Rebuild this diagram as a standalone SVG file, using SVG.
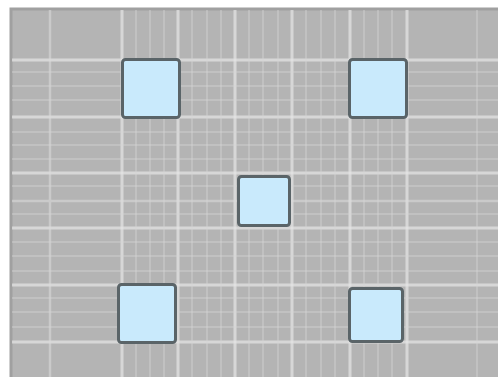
<svg xmlns="http://www.w3.org/2000/svg" width="498" height="379" viewBox="0 0 498 379">
<defs>
<style>
.bg{fill:#b4b4b4}
.s{stroke:#e6e6e6;stroke-width:3;stroke-opacity:0.7}
.m{stroke:#dcdcdc;stroke-width:2.5;stroke-opacity:0.55}
.f{stroke:#d4d4d4;stroke-width:2;stroke-opacity:0.4}
.node rect{fill:#c9eafc;stroke:#5a6468;stroke-width:3}
</style>
<filter id="soft" x="0" y="0" width="1" height="1"><feGaussianBlur stdDeviation="0.6"/></filter>
</defs>
<rect x="0" y="0" width="498" height="379" fill="#ffffff"/>
<rect class="bg" x="10" y="8" width="488" height="369"/>
<path d="M11 377V9H498" fill="none" stroke="#a0a0a0" stroke-width="3"/>
<g id="grid" filter="url(#soft)">
<g class="s">
<path d="M12 60H498M12 117H498M12 173H498M12 228H498M12 285H498M12 342H498"/>
<path d="M122 10V377M178 10V377M235 10V377M292 10V377M350 10V377M407 10V377"/>
</g>
<g class="m">
<path d="M50 10V377M12 201H498"/>
</g>
<g class="f">
<path d="M12 72H498M12 86H498M12 100H498M12 132H498M12 145H498M12 159H498M12 186H498M12 214H498M12 242H498M12 256H498M12 271H498M12 298H498M12 312H498M12 327H498"/>
<path d="M136 10V377M150 10V377M164 10V377M192 10V377M207 10V377M221 10V377M249 10V377M263 10V377M278 10V377M306 10V377M321 10V377M335 10V377M364 10V377M378 10V377M392 10V377M477 10V377"/>
</g>
</g>
<g id="connectors"></g>
<g id="n1" class="node"><rect x="122.5" y="59.5" width="57" height="58" rx="3"/></g>
<g id="n2" class="node"><rect x="349.5" y="59.5" width="57" height="58" rx="3"/></g>
<g id="n3" class="node"><rect x="238.5" y="176.5" width="51" height="49" rx="3"/></g>
<g id="n4" class="node"><rect x="118.5" y="284.5" width="57" height="58" rx="3"/></g>
<g id="n5" class="node"><rect x="349.5" y="288.5" width="53" height="53" rx="3"/></g>
</svg>
